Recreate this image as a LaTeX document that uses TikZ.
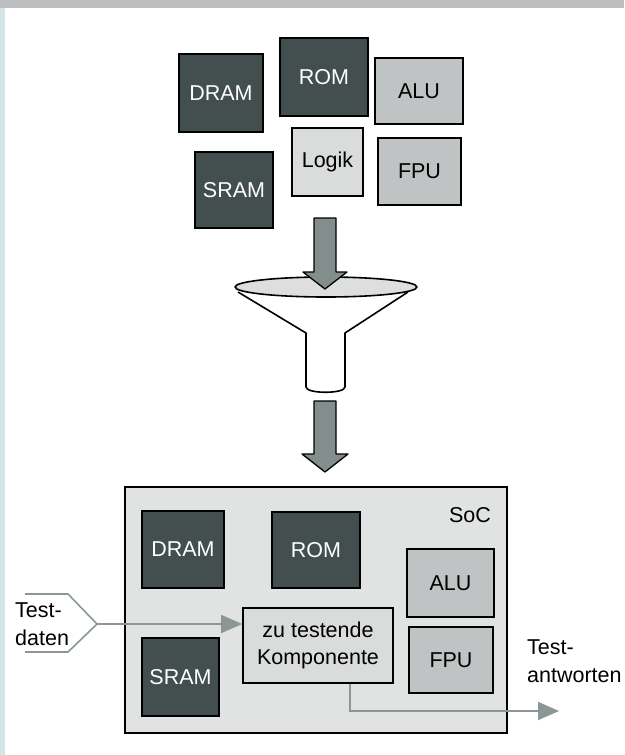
\documentclass[tikz,border=0pt]{standalone}
\usepackage{fontspec}
\setmainfont{Liberation Sans}
\usetikzlibrary{arrows.meta}
\definecolor{dkbox}{HTML}{424F4E}
\definecolor{mdbox}{HTML}{C0C3C3}
\definecolor{ltbox}{HTML}{D9DCDB}
\definecolor{socfill}{HTML}{E1E3E2}
\definecolor{arrfill}{HTML}{838D8C}
\definecolor{conn}{HTML}{8B9796}
\definecolor{topbar}{HTML}{BCBDBF}
\definecolor{strip}{HTML}{D4E5E5}
\definecolor{funfill}{HTML}{DCDFDE}
\tikzset{
  box/.style={draw=black, line width=1.6pt, inner sep=0pt, align=center,
    font=\fontsize{21.5}{27}\selectfont},
  darkbox/.style={box, fill=dkbox, text=white},
  midbox/.style={box, fill=mdbox, text=black},
  lightbox/.style={box, fill=ltbox, text=black},
  lbl/.style={inner sep=0pt, align=left, font=\fontsize{21.5}{28}\selectfont},
  blockarrow/.style={draw=black, line width=1.3pt, fill=arrfill, line join=round},
  connector/.style={draw=conn, line width=1.8pt, -{Triangle[length=21pt,width=18pt]}},
  funnelline/.style={draw=black, line width=1.6pt, line join=round}
}
\begin{document}
\begin{tikzpicture}[x=1pt, y=-1pt]
\useasboundingbox (0,0) rectangle (624,755);
% background bars
\fill[topbar] (0,0) rectangle (624,8);
\fill[strip] (0,8) rectangle (5,755);

% top components
\node[darkbox, minimum width=84pt, minimum height=78pt] (dram1) at (221,93) {DRAM};
\node[darkbox, minimum width=88pt, minimum height=78pt] (rom1) at (324,77) {ROM};
\node[midbox, minimum width=88pt, minimum height=66pt] (alu1) at (419,91) {ALU};
\node[lightbox, minimum width=71pt, minimum height=68pt] (logik1) at (327.5,162) {Logik};
\node[midbox, minimum width=83pt, minimum height=67pt] (fpu1) at (419.5,171.5) {FPU};
\node[darkbox, minimum width=78pt, minimum height=76pt] (sram1) at (234,190) {SRAM};

% funnel
\draw[funnelline] (238,292) -- (306,333) -- (306,387)
   .. controls (306,394) and (345,394) .. (345,387) -- (345,333) -- (408,292);
\draw[funnelline, fill=funfill] (326,287) ellipse [x radius=91pt, y radius=10pt];

% block arrow 1
\draw[blockarrow] (314,218) -- (336,218) -- (336,272) -- (347,272) -- (325,289)
   -- (303,272) -- (314,272) -- cycle;
% block arrow 2
\draw[blockarrow] (314,401) -- (336,401) -- (336,454) -- (348,454) -- (325,472)
   -- (302,454) -- (314,454) -- cycle;

% SoC
\node[draw=black, line width=1.3pt, fill=socfill, minimum width=382pt, minimum height=246pt, inner sep=0pt] (soc) at (316,610) {};
\node[inner sep=0pt, font=\fontsize{21.5}{27}\selectfont] (soclabel) at (470,515) {SoC};

\node[darkbox, minimum width=82pt, minimum height=77pt] (dram2) at (183,549.5) {DRAM};
\node[darkbox, minimum width=88pt, minimum height=76pt] (rom2) at (316,550) {ROM};
\node[midbox, minimum width=87pt, minimum height=68pt] (alu2) at (450.5,583) {ALU};
\node[midbox, minimum width=84pt, minimum height=66pt] (fpu2) at (451,660) {FPU};
\node[lightbox, minimum width=150pt, minimum height=75pt] (comp) at (318,645.5) {zu testende\\Komponente};
\node[darkbox, minimum width=77pt, minimum height=78pt] (sram2) at (180.5,677) {SRAM};

% test data input
\coordinate (tdtip) at (97,624);
\draw[draw=conn, line width=1.6pt, line join=miter] (25,594) -- (68,594) -- (tdtip) -- (68,652) -- (25,652);
\node[lbl, anchor=west] (testdaten) at (15,624) {Test-\\daten};
\draw[connector] (tdtip) -- (tdtip -| comp.west);

% test responses output
\coordinate (outend) at (559,711);
\draw[connector] (comp.south -| 350,0) |- (outend);
\node[lbl, anchor=west] (antworten) at (527,661) {Test-\\antworten};
\end{tikzpicture}
\end{document}
